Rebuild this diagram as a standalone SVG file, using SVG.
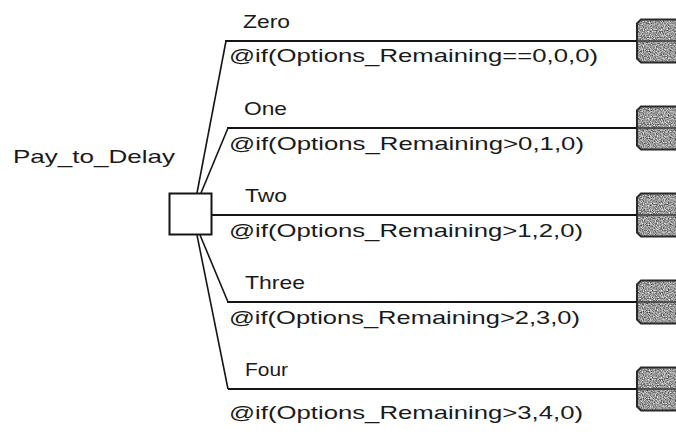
<svg xmlns="http://www.w3.org/2000/svg" width="676" height="435" viewBox="0 0 676 435">
  <defs>
    <!-- mottled grey fill for the end nodes -->
    <filter id="stipple" x="0" y="0" width="100%" height="100%" color-interpolation-filters="sRGB">
      <feTurbulence type="fractalNoise" baseFrequency="0.85" numOctaves="2" seed="7" result="noise"/>
      <feColorMatrix in="noise" type="matrix" values="1.1 0 0 0 0.05  1.1 0 0 0 0.05  1.1 0 0 0 0.05  0 0 0 0 1" result="grey"/>
      <feComposite in="grey" in2="SourceGraphic" operator="in"/>
    </filter>
    <polygon id="term" points="641,-21.5 682,-21.5 682,21.5 641,21.5 637,17.5 637,-17.5"/>
  </defs>
  <style>
    text { font-family: "Liberation Sans", Arial, sans-serif; font-size: 19px; fill: #1a1a1a; }
    .branch { fill: none; stroke: #151515; stroke-width: 2; }
    .spoke { fill: none; stroke: #151515; stroke-width: 1.6; }
    .term-fill { fill: #000; filter: url(#stipple); }
    .term-edge { fill: none; stroke: #2a2a2a; stroke-width: 2; }
    .through { stroke: #3a3a3a; stroke-width: 1.5; }
  </style>
  <rect width="676" height="435" fill="#ffffff"/>

  <!-- terminal end nodes -->
  <g id="end-zero" transform="translate(0,41)"><use href="#term" class="term-fill"/><use href="#term" class="term-edge"/></g>
  <g id="end-one" transform="translate(0,128)"><use href="#term" class="term-fill"/><use href="#term" class="term-edge"/></g>
  <g id="end-two" transform="translate(0,215)"><use href="#term" class="term-fill"/><use href="#term" class="term-edge"/></g>
  <g id="end-three" transform="translate(0,302)"><use href="#term" class="term-fill"/><use href="#term" class="term-edge"/></g>
  <g id="end-four" transform="translate(0,389)"><use href="#term" class="term-fill"/><use href="#term" class="term-edge"/></g>

  <!-- branches from the decision node -->
  <g id="connectors">
    <polyline class="spoke" points="197,193 226,41"/>
    <polyline class="spoke" points="201,193 228,128"/>
    <polyline class="spoke" points="200,235 228,302"/>
    <polyline class="spoke" points="197,235 228,389"/>
    <line class="branch" x1="225" y1="41" x2="637" y2="41"/>
    <line class="branch" x1="227" y1="128" x2="637" y2="128"/>
    <line class="branch" x1="212" y1="215" x2="637" y2="215"/>
    <line class="branch" x1="227" y1="302" x2="637" y2="302"/>
    <line class="branch" x1="228" y1="389" x2="637" y2="389"/>
    <line class="through" x1="637" y1="41" x2="676" y2="41"/>
    <line class="through" x1="637" y1="128" x2="676" y2="128"/>
    <line class="through" x1="637" y1="215" x2="676" y2="215"/>
    <line class="through" x1="637" y1="302" x2="676" y2="302"/>
    <line class="through" x1="637" y1="389" x2="676" y2="389"/>
  </g>

  <!-- decision node -->
  <g id="pay-to-delay">
    <rect x="169.5" y="193.5" width="42" height="41" fill="#ffffff" stroke="#151515" stroke-width="2"/>
    <text x="13" y="163" textLength="162" lengthAdjust="spacingAndGlyphs">Pay_to_Delay</text>
  </g>

  <!-- branch labels -->
  <g id="branch-zero">
    <text x="243" y="28" textLength="47" lengthAdjust="spacingAndGlyphs">Zero</text>
    <text x="229" y="62" textLength="369" lengthAdjust="spacingAndGlyphs">@if(Options_Remaining==0,0,0)</text>
  </g>
  <g id="branch-one">
    <text x="244" y="115" textLength="43" lengthAdjust="spacingAndGlyphs">One</text>
    <text x="229" y="150" textLength="355" lengthAdjust="spacingAndGlyphs">@if(Options_Remaining&gt;0,1,0)</text>
  </g>
  <g id="branch-two">
    <text x="245" y="202" textLength="42" lengthAdjust="spacingAndGlyphs">Two</text>
    <text x="229" y="237" textLength="354" lengthAdjust="spacingAndGlyphs">@if(Options_Remaining&gt;1,2,0)</text>
  </g>
  <g id="branch-three">
    <text x="245" y="289" textLength="60" lengthAdjust="spacingAndGlyphs">Three</text>
    <text x="229" y="324" textLength="351" lengthAdjust="spacingAndGlyphs">@if(Options_Remaining&gt;2,3,0)</text>
  </g>
  <g id="branch-four">
    <text x="245" y="376" textLength="43" lengthAdjust="spacingAndGlyphs">Four</text>
    <text x="229" y="419" textLength="354" lengthAdjust="spacingAndGlyphs">@if(Options_Remaining&gt;3,4,0)</text>
  </g>
</svg>
